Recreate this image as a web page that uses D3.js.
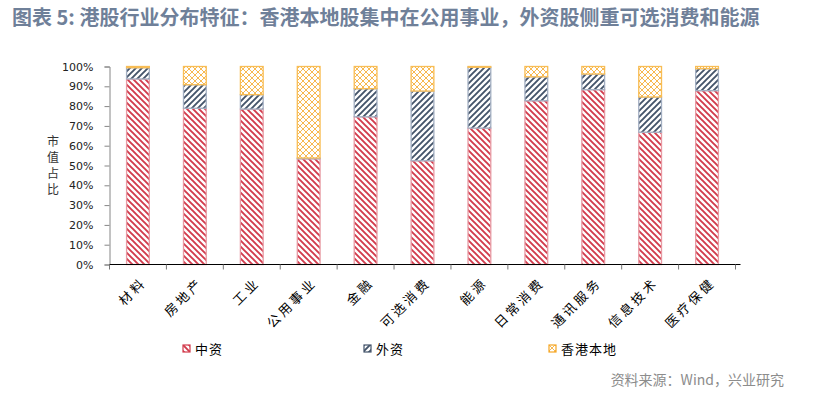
<!DOCTYPE html>
<html>
<head>
<meta charset="utf-8">
<script src="https://cdn.jsdelivr.net/npm/d3@7"></script>
<style>
body { margin: 0; background: #fff; }
svg { display: block; }
</style>
</head>
<body>
<div id="chart"></div>
<script>
const categories = ['材料', '房地产', '工业', '公用事业', '金融', '可选消费', '能源', '日常消费', '通讯服务', '信息技术', '医疗保健'];
const seriesNames = ['中资', '外资', '香港本地'];
// 各行业市值占比(%)
const chinaShare = [93.7, 78.9, 78.5, 53.4, 74.6, 52.4, 68.9, 82.7, 88.3, 66.8, 87.8];
const foreignShare = [5.7, 11.9, 7.3, 0.4, 14.2, 35.2, 30.7, 12.1, 7.9, 17.8, 11.1];
const localShare = [0.6, 9.2, 14.2, 46.2, 11.2, 12.4, 0.4, 5.2, 3.8, 15.4, 1.1];
const yTicks = [0, 10, 20, 30, 40, 50, 60, 70, 80, 90, 100];

const width = 813;
const height = 397;
const plot = { left: 109.5, right: 735.5, top: 66.5, bottom: 264.5 };

const svg = d3.select('#chart').append('svg')
    .attr('width', width)
    .attr('height', height);

const defs = svg.append('defs');
const styles = [
    { id: 'p-china', line: '#d23b4c', border: '#e89aa3', d: 'M0,0 L6,6 M-1,5 L1,7 M5,-1 L7,1', w: 1.9 },
    { id: 'p-foreign', line: '#44546a', border: '#a3afc2', d: 'M0,6 L6,0 M-1,1 L1,-1 M5,7 L7,5', w: 1.9 },
    { id: 'p-local', line: '#f5a623', border: '#f8bd55', d: 'M0,0 L6,6 M0,6 L6,0 M-1,5 L1,7 M5,-1 L7,1 M-1,1 L1,-1 M5,7 L7,5', w: 0.8 }
];
styles.forEach(s => {
    const p = defs.append('pattern')
        .attr('id', s.id)
        .attr('patternUnits', 'userSpaceOnUse')
        .attr('width', 6)
        .attr('height', 6);
    p.append('rect').attr('width', 6).attr('height', 6).attr('fill', '#fff');
    p.append('path')
        .attr('d', s.d)
        .attr('stroke', s.line)
        .attr('stroke-width', s.w)
        .attr('fill', 'none');
});

// 标题
svg.append('text')
    .attr('x', 12)
    .attr('y', 25)
    .attr('font-family', '"Noto Sans CJK SC", "Noto Sans", sans-serif')
    .attr('font-size', '20px')
    .attr('font-weight', 'bold')
    .attr('fill', '#6f8099')
    .text('图表 5: 港股行业分布特征：香港本地股集中在公用事业，外资股侧重可选消费和能源');

const x = d3.scaleBand()
    .domain(categories)
    .range([plot.left, plot.right])
    .paddingInner(0.6)
    .paddingOuter(0.3);

const y = d3.scaleLinear()
    .domain([0, 100])
    .range([plot.bottom, plot.top]);

const table = categories.map((c, i) => ({
    cat: c,
    '中资': chinaShare[i],
    '外资': foreignShare[i],
    '香港本地': localShare[i]
}));
const stacked = d3.stack().keys(seriesNames)(table);

// y 轴
const yAxis = svg.append('g')
    .attr('transform', `translate(${plot.left},0)`)
    .call(d3.axisLeft(y).tickValues(yTicks).tickSize(5).tickPadding(11).tickFormat(d => d + '%'));
yAxis.select('.domain').attr('stroke', '#868686');
yAxis.selectAll('.tick line').attr('stroke', '#868686');
yAxis.selectAll('.tick text')
    .attr('font-family', '"DejaVu Sans", sans-serif')
    .attr('font-size', '11px')
    .attr('fill', '#222');

// y 轴标题
const yTitle = svg.append('text')
    .attr('font-family', '"Noto Sans CJK SC", sans-serif')
    .attr('font-size', '12px')
    .attr('fill', '#333')
    .attr('text-anchor', 'middle');
'市值占比'.split('').forEach((ch, i) => {
    yTitle.append('tspan')
        .attr('x', 53)
        .attr('y', 146 + i * 16)
        .text(ch);
});

// 柱子
const groups = svg.selectAll('.series')
    .data(stacked)
    .enter().append('g')
    .attr('class', 'series');
groups.selectAll('rect')
    .data((d, i) => d.map(v => ({ v, s: styles[i] })))
    .enter().append('rect')
    .attr('x', d => x(d.v.data.cat))
    .attr('width', x.bandwidth())
    .attr('y', d => y(d.v[1]))
    .attr('height', d => y(d.v[0]) - y(d.v[1]))
    .attr('fill', d => `url(#${d.s.id})`)
    .attr('stroke', d => d.s.border)
    .attr('stroke-width', 1.3);

// x 轴
const xAxis = svg.append('g')
    .attr('transform', `translate(0,${plot.bottom})`);
xAxis.append('line')
    .attr('x1', plot.left)
    .attr('x2', plot.right + 5)
    .attr('stroke', '#000')
    .attr('stroke-width', 1.2);
const boundaries = d3.range(categories.length + 1).map(i => plot.left + i * (plot.right - plot.left) / categories.length);
xAxis.selectAll('.xtick')
    .data(boundaries)
    .enter().append('line')
    .attr('x1', d => d)
    .attr('x2', d => d)
    .attr('y1', 0)
    .attr('y2', 5)
    .attr('stroke', '#777');
xAxis.selectAll('.xlabel')
    .data(categories)
    .enter().append('text')
    .attr('font-family', '"Noto Sans CJK SC", sans-serif')
    .attr('font-size', '13px')
    .attr('letter-spacing', '3px')
    .attr('fill', '#000')
    .attr('text-anchor', 'end')
    .attr('transform', d => `translate(${x(d) + x.bandwidth() / 2 + 9},${19}) rotate(-45)`)
    .text(d => d);

// 图例
const legendX = [183, 364, 549];
const legend = svg.selectAll('.legend')
    .data(seriesNames)
    .enter().append('g')
    .attr('class', 'legend')
    .attr('transform', (d, i) => `translate(${legendX[i]},345)`);
legend.append('rect')
    .attr('width', 7)
    .attr('height', 7)
    .attr('fill', (d, i) => `url(#${styles[i].id})`)
    .attr('stroke', (d, i) => styles[i].line)
    .attr('stroke-width', 1.2);
legend.append('text')
    .attr('x', 12)
    .attr('y', 8.5)
    .attr('font-family', '"Noto Sans CJK SC", sans-serif')
    .attr('font-size', '13px')
    .attr('letter-spacing', '1px')
    .attr('fill', '#000')
    .text(d => d);

// 来源
svg.append('text')
    .attr('x', 784)
    .attr('y', 385)
    .attr('text-anchor', 'end')
    .attr('font-family', '"Noto Sans CJK SC", sans-serif')
    .attr('font-size', '14px')
    .attr('fill', '#8c8c8c')
    .text('资料来源：Wind，兴业研究');
</script>
</body>
</html>
